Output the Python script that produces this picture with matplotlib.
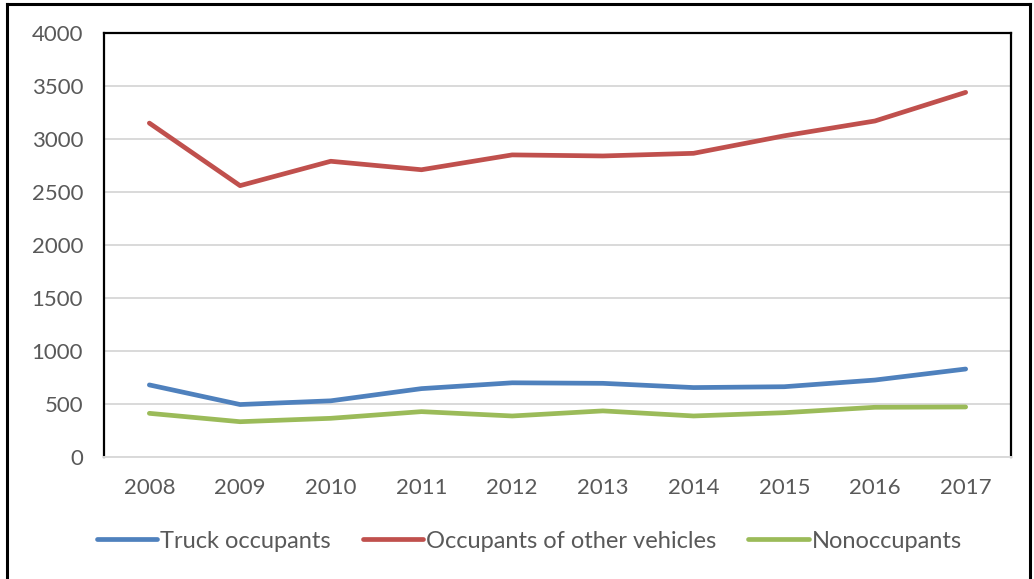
import matplotlib.pyplot as plt
from matplotlib.lines import Line2D

years = ['2008', '2009', '2010', '2011', '2012', '2013', '2014', '2015', '2016', '2017']
truck = [680, 495, 530, 645, 700, 695, 655, 663, 726, 830]
other = [3150, 2560, 2790, 2710, 2850, 2840, 2865, 3030, 3170, 3440]
nonocc = [412, 333, 365, 428, 387, 435, 387, 418, 469, 472]

plt.rcParams['font.family'] = ['Lato', 'DejaVu Sans']
grey = '#595959'

fig = plt.figure(figsize=(10.34, 5.79), dpi=100)
ax = fig.add_axes([104/1034, 1 - 457/579, (1011-104)/1034, (457-33)/579])

x = range(len(years))
ax.plot(x, truck, color='#4F81BD', lw=3.4, solid_capstyle='round', label='Truck occupants')
ax.plot(x, other, color='#C0504D', lw=3.4, solid_capstyle='round', label='Occupants of other vehicles')
ax.plot(x, nonocc, color='#9BBB59', lw=3.4, solid_capstyle='round', label='Nonoccupants')

ax.set_xlim(-0.5, len(years) - 0.5)
ax.set_ylim(0, 4000)
ax.set_yticks(range(0, 4001, 500))
ax.set_xticks(list(x))
ax.set_xticklabels(years)
ax.grid(axis='y', color='#D9D9D9', lw=1.4)
ax.set_axisbelow(True)
ax.tick_params(length=0, labelsize=16, colors=grey)
ax.tick_params(axis='y', pad=15)
ax.tick_params(axis='x', pad=15)
for s in ['left', 'top', 'right']:
    ax.spines[s].set_color('black')
    ax.spines[s].set_linewidth(1.6)
ax.spines['bottom'].set_color('#D9D9D9')
ax.spines['bottom'].set_linewidth(1.4)

leg = fig.legend(loc='center', bbox_to_anchor=(0.512, 1 - 541/579), ncol=3, frameon=False,
                 fontsize=17, handlelength=2.55, handletextpad=0.13, columnspacing=1.35)
for t in leg.get_texts():
    t.set_color(grey)

# outer frame
fw = 2.2
fig.add_artist(Line2D([7/1034, 7/1034], [0, 1 - 4/579], transform=fig.transFigure, color='black', lw=fw))
fig.add_artist(Line2D([7/1034, 1030/1034], [1 - 4/579, 1 - 4/579], transform=fig.transFigure, color='black', lw=fw))
fig.add_artist(Line2D([1030/1034, 1030/1034], [0, 1 - 4/579], transform=fig.transFigure, color='black', lw=fw))

fig.savefig('out.png', dpi=100)
